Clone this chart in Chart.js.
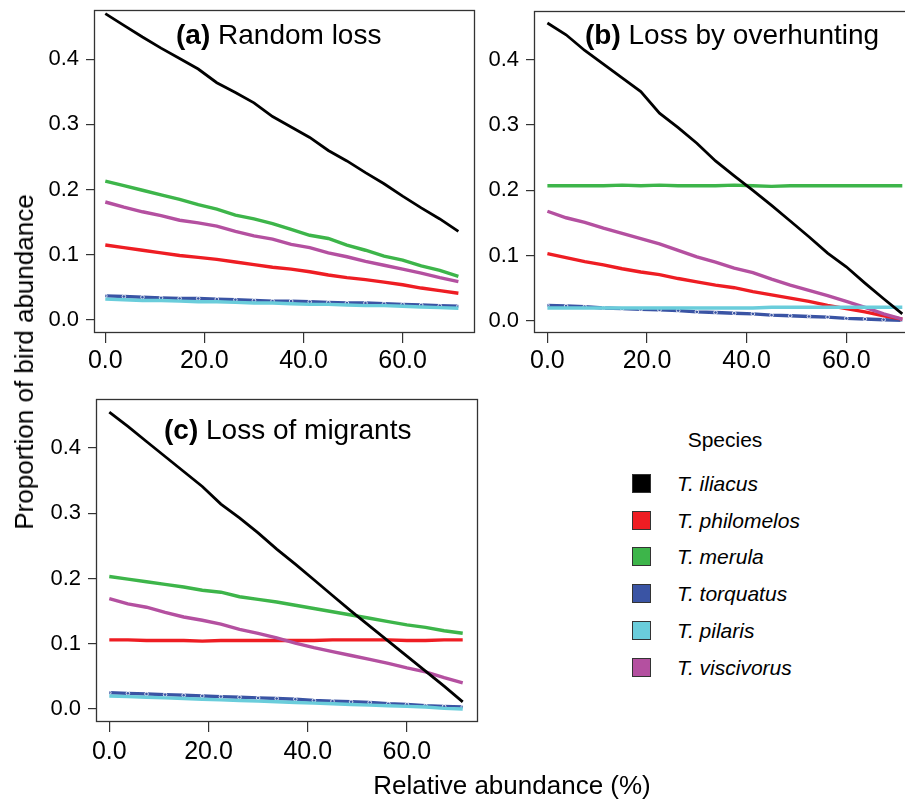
<!DOCTYPE html>
<html>
<head>
<meta charset="utf-8">
<script src="https://cdn.jsdelivr.net/npm/chart.js@4/dist/chart.umd.min.js"></script>
<style>
  html, body { margin:0; padding:0; background:#fff; }
  body { width:905px; height:805px; overflow:hidden; position:relative; font-family:"Liberation Sans", Arial, Helvetica, sans-serif; color:#000; }
  canvas { position:absolute; }
  .ptitle { position:absolute; font-size:28px; line-height:28px; white-space:nowrap; }
  .ptitle b { font-weight:bold; }
  .axt { position:absolute; font-size:26px; line-height:26px; white-space:nowrap; }
  .leg-title { position:absolute; font-size:21px; line-height:21px; white-space:nowrap; transform:translateX(-50%); }
  .leg-box { position:absolute; width:17px; height:17px; border:1.5px solid #333; }
  .leg-lab { position:absolute; font-size:21px; line-height:21px; font-style:italic; white-space:nowrap; }
</style>
</head>
<body>
<canvas id="ca" width="480" height="380" style="left:0;top:0"></canvas>
<canvas id="cb" width="500" height="380" style="left:440px;top:0"></canvas>
<canvas id="cc" width="485" height="390" style="left:0;top:385px"></canvas>

<div class="ptitle" style="left:176px;top:21px"><b>(a)</b> Random loss</div>
<div class="ptitle" style="left:585px;top:21px"><b>(b)</b> Loss by overhunting</div>
<div class="ptitle" style="left:164px;top:416px"><b>(c)</b> Loss of migrants</div>

<div class="axt" id="ytitle" style="left:24px;top:362px;transform:translate(-50%,-50%) rotate(-90deg)">Proportion of bird abundance</div>
<div class="axt" style="left:512px;top:772px;transform:translateX(-50%)">Relative abundance (%)</div>

<div id="legend"></div>

<script>
// ---------- data ----------
const species = ["T. iliacus", "T. philomelos", "T. merula", "T. torquatus", "T. pilaris", "T. viscivorus"];
const speciesColors = ["#000000", "#EE1D23", "#3DB54A", "#3A54A4", "#6ACDDB", "#B450A0"];
const lossPercent = [0, 3.75, 7.5, 11.25, 15, 18.75, 22.5, 26.25, 30, 33.75, 37.5, 41.25, 45, 48.75, 52.5, 56.25, 60, 63.75, 67.5, 71.25];
const xTickValues = [0, 20, 40, 60];
const yTickValues = [0, 0.1, 0.2, 0.3, 0.4];

// (a) Random loss
const randomIliacus    = [0.470,0.452,0.434,0.417,0.401,0.385,0.364,0.349,0.333,0.312,0.296,0.280,0.260,0.244,0.226,0.209,0.190,0.172,0.155,0.136];
const randomPhilomelos = [0.115,0.111,0.107,0.103,0.099,0.096,0.093,0.089,0.085,0.081,0.078,0.074,0.069,0.065,0.062,0.058,0.054,0.049,0.045,0.041];
const randomMerula     = [0.213,0.206,0.199,0.192,0.185,0.177,0.170,0.161,0.155,0.148,0.139,0.130,0.125,0.115,0.107,0.098,0.092,0.083,0.076,0.067];
const randomTorquatus  = [0.037,0.036,0.035,0.034,0.033,0.033,0.032,0.031,0.030,0.029,0.029,0.028,0.027,0.026,0.026,0.025,0.024,0.023,0.022,0.021];
const randomPilaris    = [0.032,0.031,0.030,0.030,0.029,0.028,0.028,0.027,0.026,0.026,0.025,0.024,0.024,0.023,0.022,0.022,0.021,0.020,0.019,0.018];
const randomViscivorus = [0.181,0.173,0.166,0.160,0.153,0.149,0.144,0.136,0.129,0.124,0.116,0.111,0.103,0.097,0.090,0.084,0.078,0.072,0.065,0.059];

// (b) Loss by overhunting
const huntIliacus    = [0.456,0.438,0.414,0.393,0.372,0.351,0.318,0.296,0.272,0.245,0.222,0.200,0.177,0.153,0.129,0.104,0.083,0.058,0.034,0.011];
const huntPhilomelos = [0.103,0.097,0.091,0.086,0.080,0.075,0.071,0.065,0.060,0.055,0.051,0.045,0.040,0.035,0.030,0.024,0.019,0.014,0.008,0.003];
const huntMerula     = [0.207,0.207,0.207,0.207,0.208,0.207,0.208,0.207,0.207,0.207,0.208,0.207,0.206,0.207,0.207,0.207,0.207,0.207,0.207,0.207];
const huntTorquatus  = [0.024,0.023,0.022,0.020,0.019,0.018,0.017,0.016,0.014,0.013,0.012,0.011,0.009,0.008,0.007,0.006,0.004,0.003,0.002,0.001];
const huntPilaris    = [0.020,0.020,0.020,0.020,0.020,0.020,0.020,0.020,0.020,0.020,0.020,0.020,0.021,0.021,0.021,0.021,0.021,0.021,0.021,0.021];
const huntViscivorus = [0.168,0.158,0.151,0.142,0.134,0.126,0.118,0.108,0.098,0.090,0.081,0.074,0.064,0.055,0.047,0.039,0.030,0.021,0.011,0.003];

// (c) Loss of migrants
const migIliacus    = [0.455,0.433,0.410,0.387,0.364,0.341,0.314,0.293,0.270,0.245,0.222,0.198,0.174,0.150,0.127,0.104,0.081,0.058,0.035,0.011];
const migPhilomelos = [0.106,0.106,0.105,0.105,0.105,0.104,0.105,0.105,0.105,0.105,0.105,0.105,0.106,0.106,0.106,0.106,0.105,0.105,0.106,0.106];
const migMerula     = [0.203,0.199,0.195,0.191,0.187,0.182,0.179,0.172,0.168,0.164,0.159,0.154,0.149,0.144,0.139,0.134,0.129,0.125,0.120,0.116];
const migTorquatus  = [0.025,0.024,0.023,0.022,0.021,0.020,0.019,0.018,0.017,0.016,0.015,0.013,0.012,0.011,0.010,0.008,0.007,0.005,0.004,0.003];
const migPilaris    = [0.020,0.019,0.018,0.017,0.016,0.015,0.014,0.013,0.012,0.011,0.010,0.009,0.008,0.007,0.006,0.005,0.004,0.003,0.001,0.000];
const migViscivorus = [0.169,0.161,0.156,0.148,0.141,0.136,0.130,0.122,0.116,0.109,0.101,0.094,0.088,0.082,0.076,0.070,0.063,0.057,0.048,0.040];

// ---------- chart building ----------
const FONT = '"Liberation Sans", Arial, Helvetica, sans-serif';
const drawOrder = [0, 3, 4, 5, 1, 2]; // lower = drawn on top

const framePlugin = {
  id: 'frame',
  afterDraw(chart) {
    const a = chart.chartArea, ctx = chart.ctx;
    ctx.save();
    ctx.strokeStyle = '#333';
    ctx.lineWidth = 1.3;
    ctx.strokeRect(Math.round(a.left) + 0.5, Math.round(a.top) + 0.5, Math.round(a.right - a.left), Math.round(a.bottom - a.top));
    ctx.restore();
  }
};

function makePanel(id, seriesList, g) {
  const datasets = seriesList.map((vals, i) => ({
    label: species[i],
    data: lossPercent.map((x, k) => ({ x: x, y: vals[k] })),
    borderColor: speciesColors[i],
    backgroundColor: speciesColors[i],
    borderWidth: i === 0 ? 2.8 : 3.4,
    tension: 0,
    order: drawOrder[i],
    pointRadius: i === 3 ? 1.8 : 0,
    pointBorderColor: '#ffffff',
    pointBackgroundColor: 'rgba(0,0,0,0)',
    pointBorderWidth: 0.8,
    clip: false
  }));
  return new Chart(document.getElementById(id), {
    type: 'line',
    data: { datasets },
    plugins: [framePlugin],
    options: {
      responsive: false,
      devicePixelRatio: 1,
      animation: false,
      events: [],
      layout: { padding: { top: g.padTop, right: g.padRight, left: 0, bottom: 0 } },
      plugins: { legend: { display: false }, tooltip: { enabled: false }, title: { display: false } },
      scales: {
        x: {
          type: 'linear',
          min: g.xmin, max: g.xmax,
          afterBuildTicks: s => { s.ticks = xTickValues.map(v => ({ value: v })); },
          afterFit: s => { s.height = g.xAxisH; s.paddingLeft = 0; s.paddingRight = 0; },
          border: { display: false },
          grid: { display: true, drawOnChartArea: false, drawTicks: true, tickLength: 11, color: '#333', lineWidth: 1.2 },
          ticks: { autoSkip: false, maxRotation: 0, padding: g.xPad, color: '#000', font: { family: FONT, size: 25 }, callback: v => Number(v).toFixed(1) }
        },
        y: {
          type: 'linear',
          min: g.ymin, max: g.ymax,
          afterBuildTicks: s => { s.ticks = yTickValues.map(v => ({ value: v })); },
          afterFit: s => { s.width = g.yAxisW; s.paddingTop = 0; s.paddingBottom = 0; },
          border: { display: false },
          grid: { display: true, drawOnChartArea: false, drawTicks: true, tickLength: 8, color: '#333', lineWidth: 1.2 },
          ticks: { padding: 7, color: '#000', font: { family: FONT, size: 22 }, callback: v => Number(v).toFixed(1) }
        }
      }
    }
  });
}

makePanel('ca', [randomIliacus, randomPhilomelos, randomMerula, randomTorquatus, randomPilaris, randomViscivorus],
  { padTop: 10, padRight: 6, yAxisW: 94, xAxisH: 48, xPad: 3, xmin: -2.28, xmax: 74.4, ymin: -0.0184, ymax: 0.4755 });
makePanel('cb', [huntIliacus, huntPhilomelos, huntMerula, huntTorquatus, huntPilaris, huntViscivorus],
  { padTop: 11, padRight: 22, yAxisW: 94, xAxisH: 48, xPad: 3, xmin: -2.69, xmax: 74.4, ymin: -0.0168, ymax: 0.4744 });
makePanel('cc', [migIliacus, migPhilomelos, migMerula, migTorquatus, migPilaris, migViscivorus],
  { padTop: 14, padRight: 8, yAxisW: 96, xAxisH: 54, xPad: 5, xmin: -2.68, xmax: 74.13, ymin: -0.0184, ymax: 0.4751 });

// ---------- legend ----------
const leg = document.getElementById('legend');
const t = document.createElement('div');
t.className = 'leg-title';
t.style.left = '725px'; t.style.top = '429px';
t.textContent = 'Species';
leg.appendChild(t);
species.forEach((name, i) => {
  const b = document.createElement('div');
  b.className = 'leg-box';
  b.style.left = '632px';
  b.style.top = (474 + i * 36.7) + 'px';
  b.style.background = speciesColors[i];
  leg.appendChild(b);
  const l = document.createElement('div');
  l.className = 'leg-lab';
  l.style.left = '677px';
  l.style.top = (473 + i * 36.7) + 'px';
  l.textContent = name;
  leg.appendChild(l);
});
</script>
</body>
</html>
